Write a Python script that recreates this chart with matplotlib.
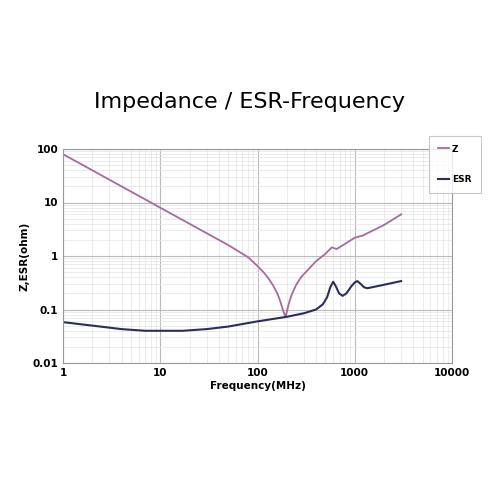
import matplotlib
matplotlib.use("Agg")
import matplotlib.pyplot as plt
from matplotlib.ticker import NullFormatter

z_freq = [1, 2, 5, 10, 20, 50, 80, 100, 115, 130, 145, 160, 172, 182, 190, 195, 200, 210, 225, 250, 280, 320, 400, 500, 580, 650, 800, 1000, 1200, 2000, 3000]
z_vals = [80, 40, 16, 8, 4, 1.6, 0.95, 0.65, 0.5, 0.38, 0.28, 0.2, 0.14, 0.1, 0.08, 0.075, 0.09, 0.13, 0.19, 0.29, 0.4, 0.52, 0.8, 1.1, 1.45, 1.35, 1.7, 2.2, 2.4, 3.8, 6]
esr_freq = [1, 2, 4, 7, 17, 30, 50, 100, 200, 300, 400, 470, 520, 560, 600, 640, 690, 750, 820, 920, 1000, 1060, 1130, 1250, 1350, 2000, 3000]
esr_vals = [0.058, 0.05, 0.043, 0.04, 0.04, 0.043, 0.048, 0.06, 0.073, 0.085, 0.1, 0.125, 0.17, 0.26, 0.33, 0.27, 0.2, 0.18, 0.2, 0.27, 0.32, 0.34, 0.31, 0.26, 0.25, 0.29, 0.34]
x_ticks = [1, 10, 100, 1000, 10000]
x_labels = ["1", "10", "100", "1000", "10000"]
y_ticks = [0.01, 0.1, 1, 10, 100]
y_labels = ["0.01", "0.1", "1", "10", "100"]

fig = plt.figure(figsize=(5, 5), dpi=100)
ax = fig.add_axes([0.126, 0.274, 0.778, 0.428])
ax.plot(z_freq, z_vals, color="#a7699f", lw=1.3, label="Z")
ax.plot(esr_freq, esr_vals, color="#2b2d5e", lw=1.5, label="ESR")
ax.set_xscale("log"); ax.set_yscale("log")
ax.set_xlim(1, 10000); ax.set_ylim(0.01, 100)
ax.set_xticks(x_ticks); ax.set_xticklabels(x_labels)
ax.set_yticks(y_ticks); ax.set_yticklabels(y_labels)
ax.xaxis.set_minor_formatter(NullFormatter()); ax.yaxis.set_minor_formatter(NullFormatter())
ax.grid(True, which="major", color="#bbbbbb", lw=0.8)
ax.grid(True, which="minor", color="#e4e4e4", lw=0.5)
ax.tick_params(which="both", length=0, labelsize=7.5)
for lab in ax.get_xticklabels() + ax.get_yticklabels():
    lab.set_fontweight("bold")
for s in ax.spines.values():
    s.set_color("#999999"); s.set_linewidth(0.8)
ax.set_xlabel("Frequency(MHz)", fontsize=7.5, fontweight="bold", labelpad=2)
ax.set_ylabel("Z,ESR(ohm)", fontsize=7.5, fontweight="bold", labelpad=2)
fig.text(0.5, 0.795, "Impedance / ESR-Frequency", ha="center", va="center", fontsize=16, family="Liberation Sans Narrow")
leg = fig.legend(loc="upper left", bbox_to_anchor=(0.848, 0.738), prop={"weight": "bold", "size": 6.5},
                 frameon=True, fancybox=False, labelspacing=2.4, handlelength=1.3, handletextpad=0.3, borderpad=1.0)
leg.get_frame().set_edgecolor("#bbbbbb"); leg.get_frame().set_linewidth(0.8)
fig.savefig("out.png", dpi=100, facecolor="white")
